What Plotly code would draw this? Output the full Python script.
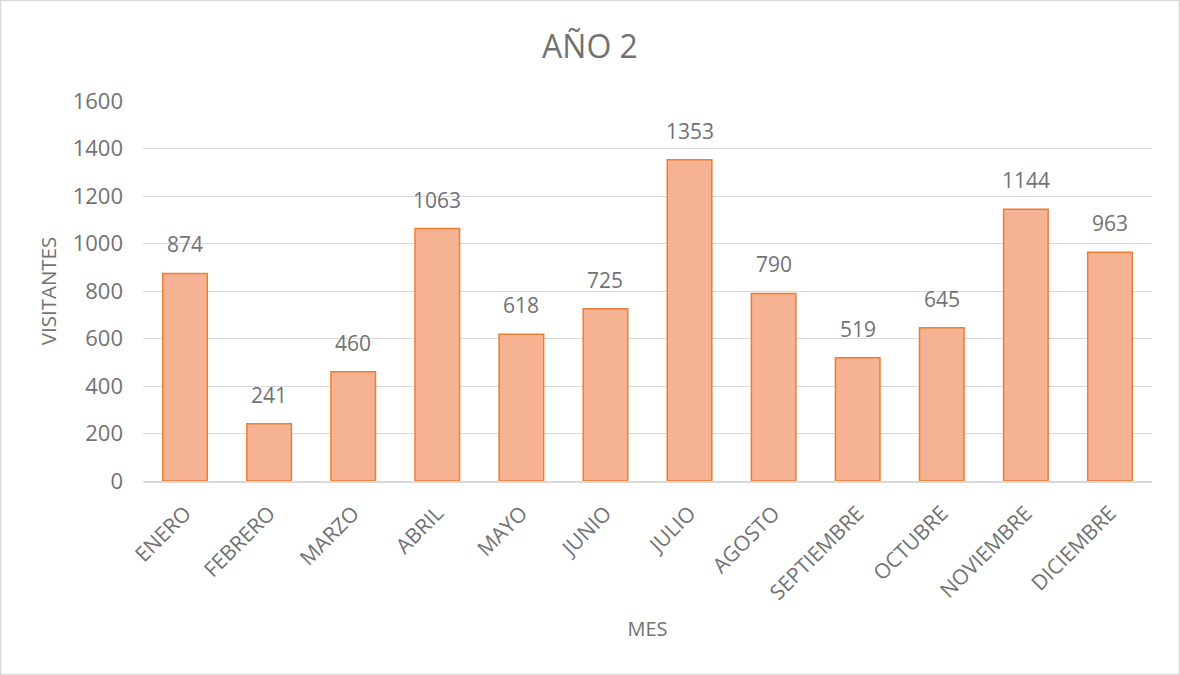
import plotly.graph_objects as go

meses = ["ENERO", "FEBRERO", "MARZO", "ABRIL", "MAYO", "JUNIO", "JULIO",
         "AGOSTO", "SEPTIEMBRE", "OCTUBRE", "NOVIEMBRE", "DICIEMBRE"]
visitantes = [874, 241, 460, 1063, 618, 725, 1353, 790, 519, 645, 1144, 963]
y_ticks = [0, 200, 400, 600, 800, 1000, 1200, 1400, 1600]

FONT = "'Open Sans', sans-serif"
GRAY = "#727272"

fig = go.Figure(go.Bar(
    x=meses, y=visitantes,
    marker=dict(color="#F6B393", line=dict(color="#ED7D31", width=1.5)),
    hoverinfo="x+y",
))

for m, v in zip(meses, visitantes):
    fig.add_annotation(x=m, y=v, text=str(v), showarrow=False,
                       yanchor="bottom", yshift=13,
                       font=dict(size=21, color=GRAY, family=FONT))

fig.update_layout(
    width=1180, height=675,
    margin=dict(l=143, r=28, t=101, b=194, autoexpand=False),
    paper_bgcolor="white", plot_bgcolor="white",
    bargap=0.47,
    title=dict(text="AÑO 2", x=0.5, xanchor="center", y=1 - 47 / 675, yanchor="middle",
               font=dict(size=32, color=GRAY, family=FONT)),
    font=dict(family=FONT, color=GRAY),
    showlegend=False,
    shapes=[dict(type="rect", xref="paper", yref="paper",
                 x0=-142.5 / 1009, x1=1 + 27.5 / 1009,
                 y0=-193.5 / 380, y1=1 + 100.5 / 380,
                 line=dict(color="#D9D9D9", width=1.5))],
)
fig.update_xaxes(
    title=dict(text="MES", font=dict(size=20, color=GRAY, family=FONT), standoff=18),
    tickangle=-45, tickfont=dict(size=21, color=GRAY, family=FONT),
    ticklabelstandoff=10,
    showline=True, linecolor="#D9D9D9", linewidth=1.5, ticks="",
    automargin=False,
)
fig.update_yaxes(
    title=dict(text="VISITANTES", font=dict(size=20.5, color=GRAY, family=FONT), standoff=10),
    range=[0, 1600], tickvals=y_ticks, tickfont=dict(size=22, color=GRAY, family=FONT),
    ticklabelstandoff=19,
    showgrid=True, gridcolor="#D9D9D9", gridwidth=1.2, zeroline=False, ticks="",
    automargin=False,
)

fig.write_html("out.html", config={"displayModeBar": False},
               post_script="document.body.style.margin='0';")
